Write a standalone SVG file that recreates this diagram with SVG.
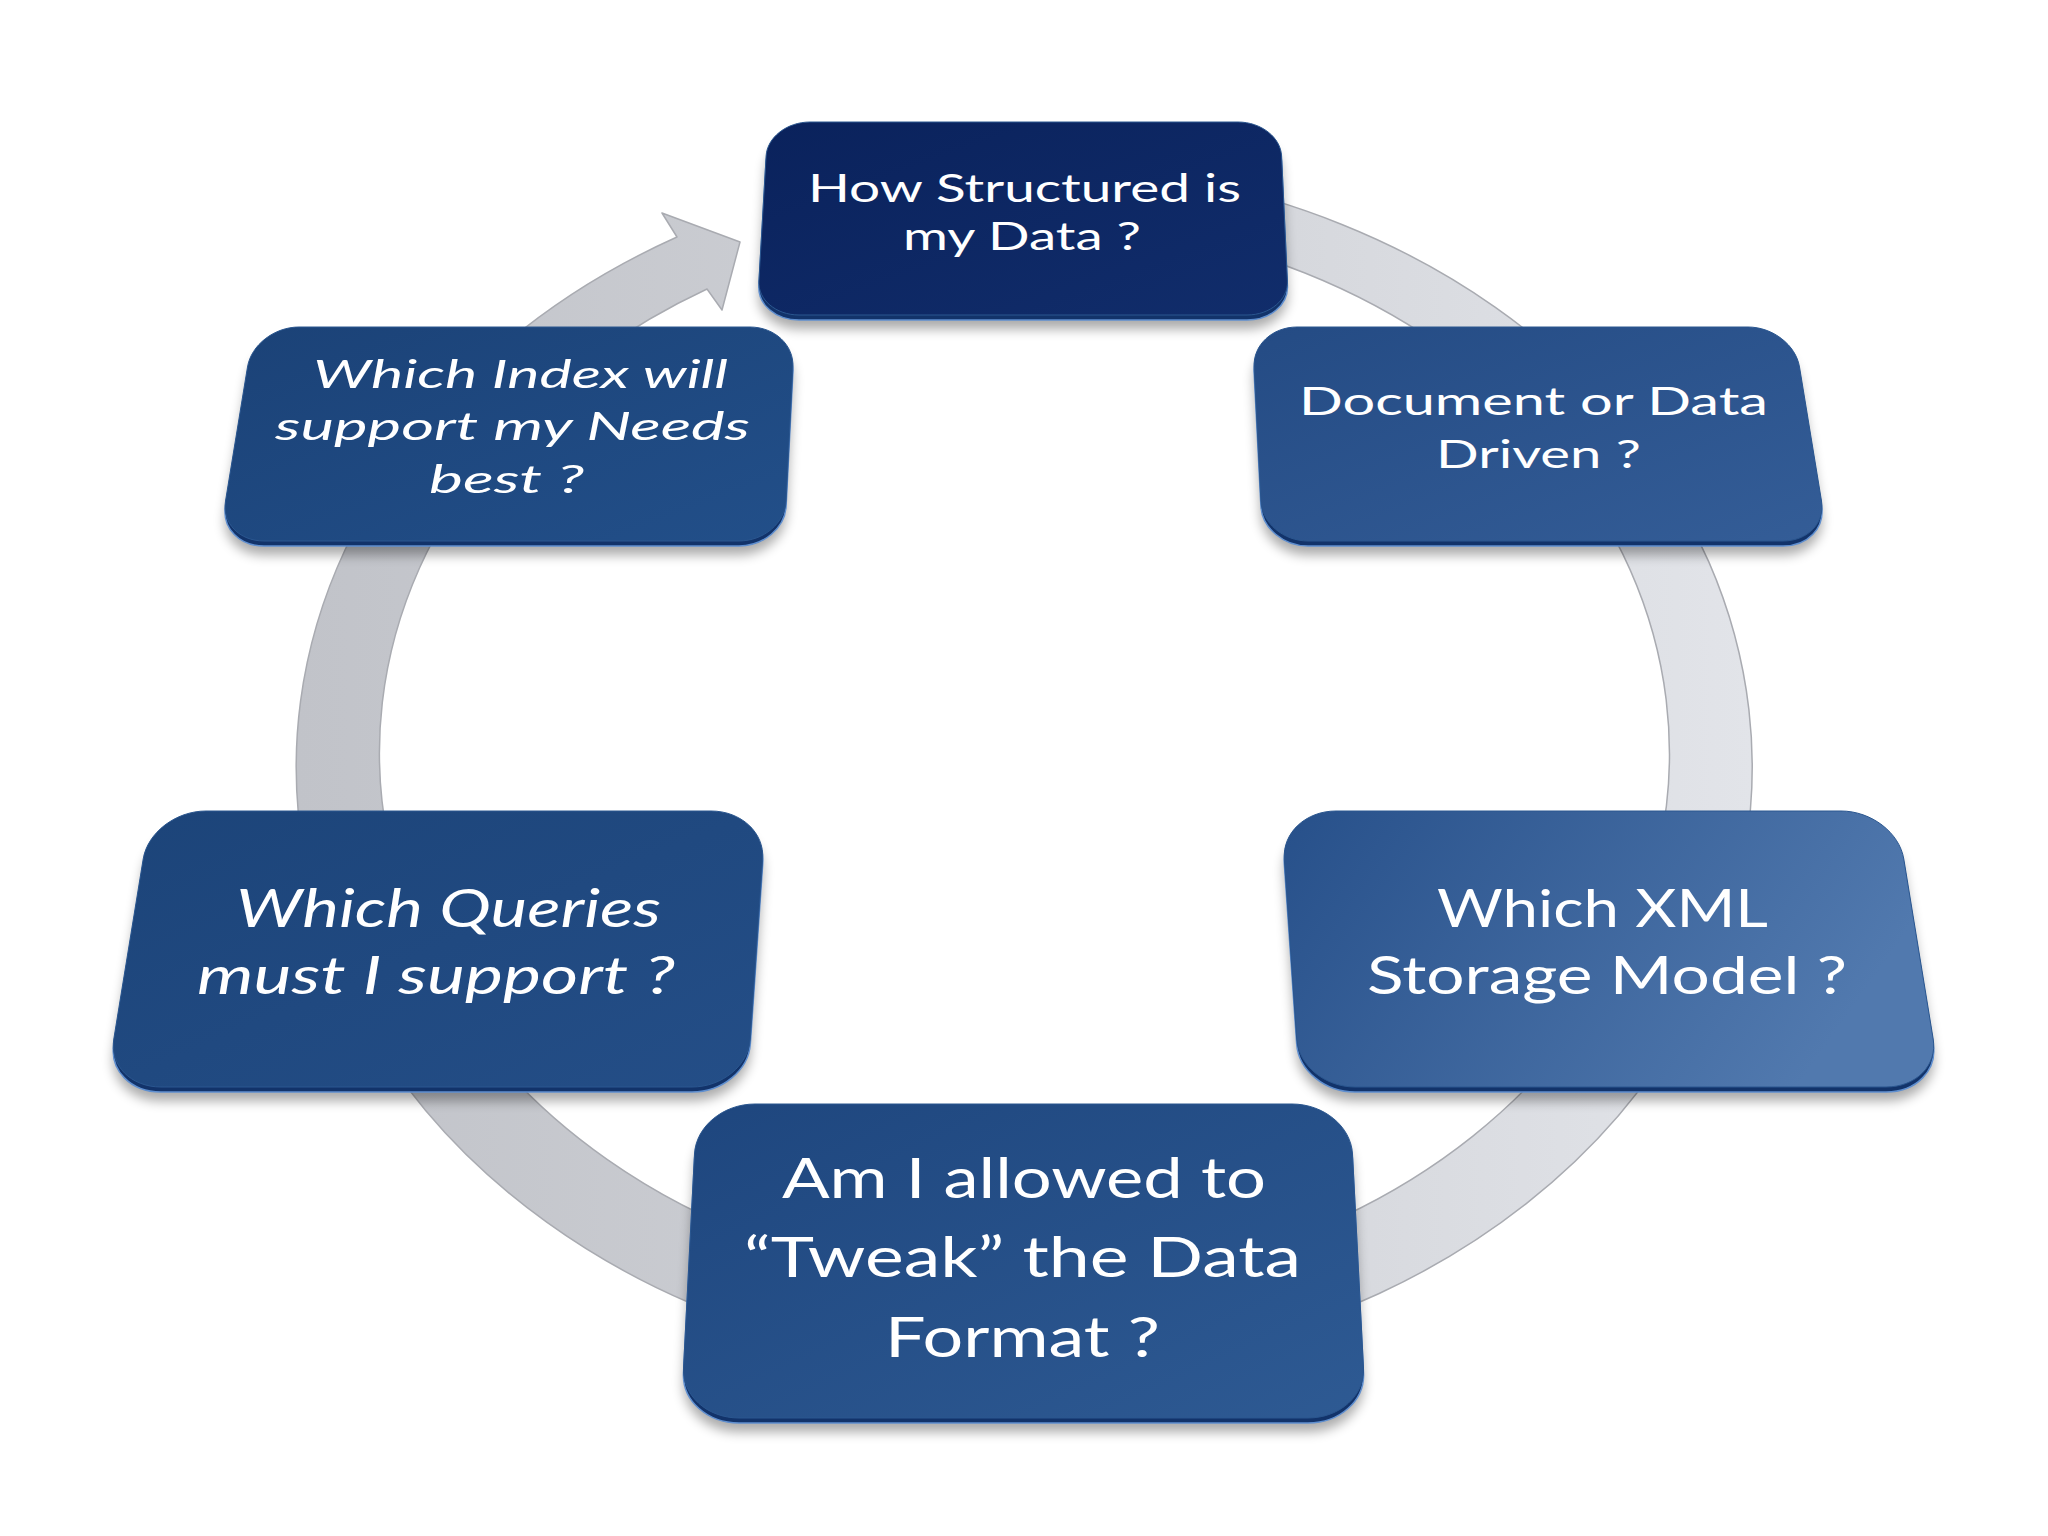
<svg xmlns="http://www.w3.org/2000/svg" width="2048" height="1536" viewBox="0 0 2048 1536">
  <style>
    .face { stroke: #2a568f; stroke-width: 1; }
    .side { fill: #12336a; stroke: #5f8fd0; stroke-width: 1.5; }
    .shadow { fill: #000; opacity: 0.33; }
    .t { fill: #ffffff; font-family: Lato, "Open Sans", "Liberation Sans", sans-serif; }
    .i { font-style: italic; }
  </style>
  <defs>
    <linearGradient id="gRing" x1="0" y1="0" x2="1" y2="0">
      <stop offset="0" stop-color="#c1c3c9"/>
      <stop offset="0.5" stop-color="#cfd1d6"/>
      <stop offset="1" stop-color="#e2e4e9"/>
    </linearGradient>
    <linearGradient id="gTop" x1="0" y1="0" x2="1" y2="1">
      <stop offset="0" stop-color="#0a225c"/>
      <stop offset="1" stop-color="#112d6b"/>
    </linearGradient>
    <linearGradient id="gLU" x1="0" y1="0" x2="1" y2="1">
      <stop offset="0" stop-color="#1b4277"/>
      <stop offset="1" stop-color="#224f89"/>
    </linearGradient>
    <linearGradient id="gRU" x1="0" y1="0" x2="1" y2="1">
      <stop offset="0" stop-color="#244b84"/>
      <stop offset="1" stop-color="#345d97"/>
    </linearGradient>
    <linearGradient id="gLL" x1="0" y1="0" x2="1" y2="1">
      <stop offset="0" stop-color="#1c4479"/>
      <stop offset="1" stop-color="#244e87"/>
    </linearGradient>
    <linearGradient id="gRL" x1="0" y1="0" x2="1" y2="0.3">
      <stop offset="0" stop-color="#27508a"/>
      <stop offset="1" stop-color="#5179ae"/>
    </linearGradient>
    <linearGradient id="gB" x1="0" y1="0" x2="1" y2="1">
      <stop offset="0" stop-color="#1e467e"/>
      <stop offset="1" stop-color="#2e5a93"/>
    </linearGradient>
    <filter id="blur" x="-10%" y="-20%" width="120%" height="160%">
      <feGaussianBlur stdDeviation="6"/>
    </filter>
    <path id="pTop" d="M810,122 L1238,122 C1261.1,122 1280.7,137.3 1281.6,156 L1287.4,281 C1288.3,299.7 1270.1,315 1247,315 L799,315 C775.9,315 757.8,299.7 758.9,281 L766.1,156 C767.2,137.3 786.9,122 810,122 Z"/>
    <path id="pRU" d="M1297,327 L1748,327 C1772.8,327 1795.9,345 1799.5,367 L1821.5,501 C1825.1,523 1807.8,541 1783,541 L1308,541 C1283.3,541 1262,523 1260.9,501 L1254.1,367 C1253,345 1272.3,327 1297,327 Z"/>
    <path id="pLU" d="M750,327 L299,327 C274.2,327 251.1,345 247.5,367 L225.5,501 C221.9,523 239.2,541 264,541 L739,541 C763.7,541 785,523 786.1,501 L792.9,367 C794,345 774.7,327 750,327 Z"/>
    <path id="pRL" d="M1336,811 L1841,811 C1871.3,811 1899.5,832.6 1903.8,859 L1933.2,1039 C1937.5,1065.4 1916.3,1087 1886,1087 L1355,1087 C1324.8,1087 1298.5,1065.4 1296.7,1039 L1284.3,859 C1282.5,832.6 1305.8,811 1336,811 Z"/>
    <path id="pLL" d="M711,811 L206,811 C175.7,811 147.5,832.6 143.2,859 L113.8,1039 C109.5,1065.4 130.7,1087 161,1087 L692,1087 C722.2,1087 748.5,1065.4 750.3,1039 L762.7,859 C764.5,832.6 741.2,811 711,811 Z"/>
    <path id="pB" d="M755,1104 L1292,1104 C1323.9,1104 1351.1,1126.5 1352.5,1154 L1363.5,1368 C1364.9,1395.5 1339.9,1418 1308,1418 L739,1418 C707.1,1418 682.1,1395.5 683.5,1368 L694.5,1154 C695.9,1126.5 723.1,1104 755,1104 Z"/>
  </defs>

  <rect x="0" y="0" width="2048" height="1536" fill="#ffffff"/>

  <g id="connectors">
    <path id="cycle-arrow" d="M1023.5,164 A728,603 0 1 1 677,237 L662,213 L740,242 L722,310 L707,289 A645,533 0 1 0 1023.5,220 Z" fill="url(#gRing)" stroke="#a9abb1" stroke-width="1.5" stroke-linejoin="round"/>
  </g>

  <g id="node-structured">
    <use href="#pTop" class="shadow" filter="url(#blur)" transform="translate(0,14)"/>
    <use href="#pTop" class="side" transform="translate(0,5)"/>
    <use href="#pTop" class="face" fill="url(#gTop)"/>
    <text class="t" font-size="38" x="808" y="202" textLength="433" lengthAdjust="spacingAndGlyphs">How Structured is</text>
    <text class="t" font-size="38" x="903" y="250" textLength="238" lengthAdjust="spacingAndGlyphs">my Data ?</text>
  </g>

  <g id="node-document">
    <use href="#pRU" class="shadow" filter="url(#blur)" transform="translate(0,14)"/>
    <use href="#pRU" class="side" transform="translate(0,5)"/>
    <use href="#pRU" class="face" fill="url(#gRU)"/>
    <text class="t" font-size="39" x="1299" y="415" textLength="469" lengthAdjust="spacingAndGlyphs">Document or Data</text>
    <text class="t" font-size="39" x="1436" y="468" textLength="205" lengthAdjust="spacingAndGlyphs">Driven ?</text>
  </g>

  <g id="node-xml">
    <use href="#pRL" class="shadow" filter="url(#blur)" transform="translate(0,14)"/>
    <use href="#pRL" class="side" transform="translate(0,5)"/>
    <use href="#pRL" class="face" fill="url(#gRL)"/>
    <text class="t" font-size="52" x="1437" y="927" textLength="331" lengthAdjust="spacingAndGlyphs">Which XML</text>
    <text class="t" font-size="52" x="1367" y="994" textLength="480" lengthAdjust="spacingAndGlyphs">Storage Model ?</text>
  </g>

  <g id="node-tweak">
    <use href="#pB" class="shadow" filter="url(#blur)" transform="translate(0,14)"/>
    <use href="#pB" class="side" transform="translate(0,5)"/>
    <use href="#pB" class="face" fill="url(#gB)"/>
    <text class="t" font-size="57" x="782" y="1198" textLength="484" lengthAdjust="spacingAndGlyphs">Am I allowed to</text>
    <text class="t" font-size="57" x="744" y="1277" textLength="557" lengthAdjust="spacingAndGlyphs">“Tweak” the Data</text>
    <text class="t" font-size="57" x="885" y="1357" textLength="275" lengthAdjust="spacingAndGlyphs">Format ?</text>
  </g>

  <g id="node-queries">
    <use href="#pLL" class="shadow" filter="url(#blur)" transform="translate(0,14)"/>
    <use href="#pLL" class="side" transform="translate(0,5)"/>
    <use href="#pLL" class="face" fill="url(#gLL)"/>
    <text class="t i" font-size="52" x="236" y="927" textLength="425" lengthAdjust="spacingAndGlyphs">Which Queries</text>
    <text class="t i" font-size="52" x="197" y="994" textLength="478" lengthAdjust="spacingAndGlyphs">must I support ?</text>
  </g>

  <g id="node-index">
    <use href="#pLU" class="shadow" filter="url(#blur)" transform="translate(0,14)"/>
    <use href="#pLU" class="side" transform="translate(0,5)"/>
    <use href="#pLU" class="face" fill="url(#gLU)"/>
    <text class="t i" font-size="38" x="313" y="388" textLength="415" lengthAdjust="spacingAndGlyphs">Which Index will</text>
    <text class="t i" font-size="38" x="275" y="440" textLength="475" lengthAdjust="spacingAndGlyphs">support my Needs</text>
    <text class="t i" font-size="38" x="429" y="493" textLength="155" lengthAdjust="spacingAndGlyphs">best ?</text>
  </g>
</svg>
